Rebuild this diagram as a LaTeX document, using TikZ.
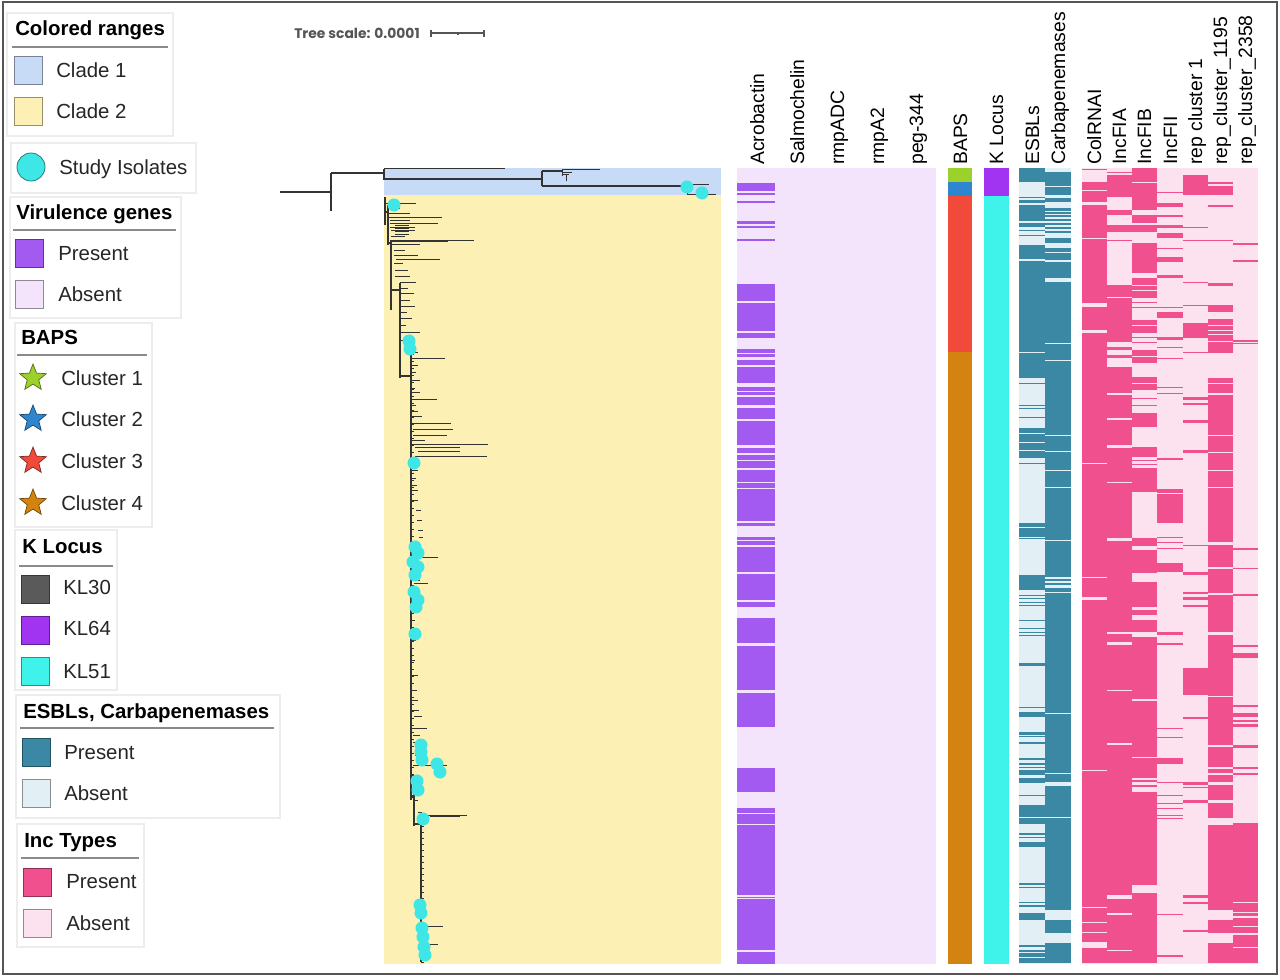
\documentclass[tikz,border=0pt]{standalone}
\usepackage{fontspec}
\setmainfont{Liberation Sans}
\newfontfamily\scalefnt{Poppins}
\usetikzlibrary{shapes.geometric}
\definecolor{framec}{HTML}{555555}
\definecolor{boxc}{HTML}{EDEDED}
\definecolor{linec}{HTML}{8A8A8A}
\definecolor{cladeA}{HTML}{C7DAF6}
\definecolor{cladeB}{HTML}{FDF0B4}
\definecolor{iso}{HTML}{3FE6E6}
\definecolor{vpres}{HTML}{A25AF0}
\definecolor{vabs}{HTML}{F3E4FB}
\definecolor{bapsA}{HTML}{9CD02A}
\definecolor{bapsB}{HTML}{2E86D0}
\definecolor{bapsC}{HTML}{F24A3A}
\definecolor{bapsD}{HTML}{D3830F}
\definecolor{klA}{HTML}{5A5A5A}
\definecolor{klB}{HTML}{A034F0}
\definecolor{klC}{HTML}{3FF2EA}
\definecolor{epres}{HTML}{3B88A5}
\definecolor{eabs}{HTML}{E2EFF4}
\definecolor{ipres}{HTML}{F0508E}
\definecolor{iabs}{HTML}{FCE1EF}
\definecolor{treec}{HTML}{333333}
\newcommand\colbars[4]{\foreach \ya/\yb in {#4}{\fill[#1] (#2,\ya) rectangle (#3,\yb);}}
\begin{document}
\begin{tikzpicture}[x=0.75pt,y=-0.75pt,
  legbox/.style={draw=boxc, line width=0.8pt},
  legline/.style={draw=linec, line width=1.4pt},
  swatch/.style={draw=#1!60!black, fill=#1, line width=0.6pt, minimum size=21pt, inner sep=0, rectangle},
  starsw/.style={star, star points=5, star point ratio=2.3, minimum size=21pt, inner sep=0, fill=#1, draw=#1!50!black, line width=0.5pt},
  legtitle/.style={anchor=base west, inner sep=0, font=\bfseries\fontsize{15.3}{18}\selectfont},
  legtext/.style={anchor=base west, inner sep=0, font=\fontsize{15.3}{18}\selectfont, text=black!85},
  collab/.style={anchor=base west, inner sep=0, rotate=90, font=\fontsize{14.5}{17}\selectfont},
  br/.style={draw=treec, line width=1.1pt},
  lf/.style={draw=treec, line width=0.7pt}]
\useasboundingbox (0,0) rectangle (1280,979);
\fill[white] (0,0) rectangle (1280,979);
\draw[framec, line width=1.4pt] (3,2) rectangle (1277,974);

% ---------------- legend ----------------
\draw[legbox] (7,13) rectangle (173,136);
\node[legtitle] (tCR) at (15,35) {Colored ranges};
\draw[legline] (12,47) -- (168,47);
\node[swatch=cladeA] (sC1) at (28,70) {};
\node[legtext] (xC1) at (56,77) {Clade 1};
\node[swatch=cladeB] (sC2) at (28,111) {};
\node[legtext] (xC2) at (56,118) {Clade 2};

\draw[legbox] (11,143) rectangle (196,193);
\node[circle, fill=iso, draw=iso!55!black, line width=0.6pt, minimum size=21pt, inner sep=0] (sSI) at (31,167) {};
\node[legtext] (xSI) at (59,174) {Study Isolates};

\draw[legbox] (10,197) rectangle (181,318);
\node[legtitle] (tVG) at (16,219) {Virulence genes};
\draw[legline] (13,230) -- (176,230);
\node[swatch=vpres] (sVP) at (29,253) {};
\node[legtext] (xVP) at (58,260) {Present};
\node[swatch=vabs] (sVA) at (29,294) {};
\node[legtext] (xVA) at (58,301) {Absent};

\draw[legbox] (15,323) rectangle (152,527);
\node[legtitle] (tBA) at (21,344) {BAPS};
\draw[legline] (17,355) -- (147,355);
\node[starsw=bapsA] (sB1) at (33,378) {};
\node[legtext] (xB1) at (61,385) {Cluster 1};
\node[starsw=bapsB] (sB2) at (33,419) {};
\node[legtext] (xB2) at (61,426) {Cluster 2};
\node[starsw=bapsC] (sB3) at (33,461) {};
\node[legtext] (xB3) at (61,468) {Cluster 3};
\node[starsw=bapsD] (sB4) at (33,503) {};
\node[legtext] (xB4) at (61,510) {Cluster 4};

\draw[legbox] (15,530) rectangle (117,690);
\node[legtitle] (tKL) at (22,553) {K Locus};
\draw[legline] (19,566) -- (113,566);
\node[swatch=klA] (sK1) at (35,589) {};
\node[legtext] (xK1) at (63,594) {KL30};
\node[swatch=klB] (sK2) at (35,630) {};
\node[legtext] (xK2) at (63,635) {KL64};
\node[swatch=klC] (sK3) at (35,671) {};
\node[legtext] (xK3) at (63,678) {KL51};

\draw[legbox] (16,695) rectangle (280,818);
\node[legtitle] (tES) at (23,718) {ESBLs, Carbapenemases};
\draw[legline] (20,728) -- (274,728);
\node[swatch=epres] (sEP) at (36,752) {};
\node[legtext] (xEP) at (64,759) {Present};
\node[swatch=eabs] (sEA) at (36,793) {};
\node[legtext] (xEA) at (64,800) {Absent};

\draw[legbox] (17,824) rectangle (144,947);
\node[legtitle] (tIT) at (24,847) {Inc Types};
\draw[legline] (21,858) -- (139,858);
\node[swatch=ipres] (sIP) at (37,882) {};
\node[legtext] (xIP) at (66,888) {Present};
\node[swatch=iabs] (sIA) at (37,923) {};
\node[legtext] (xIA) at (66,930) {Absent};

% ---------------- tree scale ----------------
\node[anchor=west, inner sep=0, text=framec, font=\scalefnt\bfseries\fontsize{10.4}{12}\selectfont] (tsc) at (294,33) {Tree scale: 0.0001};
\draw[framec, line width=0.9pt] (431,33) -- (484,33);
\draw[framec, line width=0.9pt] (431,29.5) -- (431,36.5) (484,29.5) -- (484,36.5) (458,32) -- (458,34.5);

% ---------------- clade ranges ----------------
\fill[cladeA] (384,168) rectangle (721,195);
\fill[cladeB] (384,195) rectangle (721,964);

% ---------------- tree ----------------
\draw[br] (280,192) -- (331,192);
\draw[br] (331,173) -- (331,211);
\draw[br] (331,173) -- (384,173);
\draw[br] (384,168.5) -- (384,180);
\draw[br] (384,168.5) -- (505,168.5);
\draw[br] (384,179) -- (542,179);
\draw[br] (542,171) -- (542,186);
\draw[br] (542,171) -- (562,171);
\draw[lf] (562,169) -- (562,176) (562,169.5) -- (600,169.5) (562,172) -- (572,172) (562,174) -- (569,174) (566,174) -- (566,181);
\draw[br] (542,186) -- (687,186);
\draw[lf] (687,184) -- (687,194) (687,184) -- (709,184) (687,194) -- (716,194);
% clade 2 backbone
\draw[br] (385,197) -- (385,225) (385,212) -- (388,212) (388,205) -- (388,245) (388,243) -- (391,243) (391,240) -- (391,310)
  (391,290) -- (400,290) (400,283) -- (400,378) (400,376) -- (411,376) (411,350) -- (411,800)
  (411,797) -- (414,797) (414,780) -- (414,826) (414,824) -- (421,824);
\draw[draw=treec, line width=1.8pt] (421,815) -- (421,962);
\foreach \yy/\xa/\xb in {203/385/416, 208/388/400, 213/388/410, 217/388/442, 220/390/410, 223/390/438, 227/390/415, 230/391/415, 236/391/405, 240/391/474, 241/391/448, 244/391/420, 250/394/405, 255/394/418, 259/396/440, 263/394/403, 270/395/408, 276/395/410, 282/400/416, 288/400/408, 293/400/414, 300/400/410, 306/400/415, 312/400/407, 318/400/412, 325/400/406, 332/400/420, 340/400/408, 352/411/418, 358/411/445, 365/411/418, 372/411/416, 380/411/420, 388/411/415, 392/411/420, 399/411/437, 405/411/416, 411/411/418, 416/411/422, 423/411/451, 429/413/453, 435/413/447, 440/411/425, 444/411/488, 447/415/460, 451/418/460, 456/415/487, 462/411/420, 470/411/418, 478/411/416, 485/411/417, 490/411/418, 500/411/418, 510/416/421, 520/417/422, 530/418/423, 537/419/423, 552/411/418, 557/411/438, 565/411/417, 580/411/420, 583/414/428, 588/411/418, 600/411/416, 620/411/415, 640/411/416, 660/411/415, 675/411/418, 690/411/417, 700/411/418, 710/411/419, 716/414/422, 728/411/427, 735/413/420, 742/413/422, 755/415/420, 765/413/447, 775/411/418, 790/411/416, 800/413/418, 812/418/422, 815/420/467, 816/430/460, 926/421/443, 944/421/438, 950/421/428, 962/421/424}
  {\draw[lf] (\xa,\yy) -- (\xb,\yy);}
\foreach \yy in {354,361,...,800} {\draw[lf] (411,\yy) -- (414,\yy);}
\foreach \yy in {826,832,...,960} {\draw[lf] (421,\yy) -- (424,\yy);}
\foreach \yy in {225,228,...,236} {\draw[lf] (395,\yy) -- (409,\yy);}
% study isolates
\foreach \xx/\yy in {687/187, 702/193, 394/205, 409/341, 410/349, 414/463, 415/547, 418/553, 413/562, 418/567, 415/575, 414/592, 418/600, 416/607, 415/634, 421/745, 421/752, 422/760, 437/764, 440/772, 417/781, 418/790, 423/819, 420/905, 421/913, 422/928, 423/937, 424/947, 425/955}
  {\fill[iso] (\xx,\yy) circle[radius=4.9pt];}

% ---------------- virulence ----------------
\fill[vabs] (737,168) rectangle (936,964);
\colbars{vpres}{737}{775}{183/191, 193/195, 201/203, 221/224, 226/228, 239/241, 284/301, 303/331, 333/338, 349/353, 354/357, 360/365, 367/383, 387/391, 392/395, 397/405, 408/419, 421/445, 448/453, 455/460, 461/468, 470/482, 483/488, 489/521, 523/526, 537/540, 541/545, 547/572, 574/600, 602/607, 618/643, 646/690, 693/727, 768/792, 808/813, 814/824, 825/895, 897/898, 899/950, 952/964}
% BAPS
\fill[bapsA] (948,168) rectangle (972,182);
\fill[bapsB] (948,182) rectangle (972,196);
\fill[bapsC] (948,196) rectangle (972,352);
\fill[bapsD] (948,352) rectangle (972,964);
% K locus
\fill[klB] (984,168) rectangle (1009,196);
\fill[klC] (984,196) rectangle (1009,964);
% ESBL / Carbapenemases
\fill[eabs] (1019,168) rectangle (1071,964);
\colbars{epres}{1019}{1045}{168/182, 197/198, 200/203, 205/221, 223/227, 230/231, 235/236, 245/259, 261/352, 353/378, 383/384, 405/406, 408/409, 417/418, 428/433, 434/442, 443/450, 451/458, 463/464, 523/527, 528/537, 538/539, 575/590, 595/596, 598/599, 602/603, 605/606, 620/621, 628/629, 632/633, 635/636, 663/666, 707/708, 712/717, 732/735, 736/737, 742/744, 758/760, 763/765, 767/768, 770/775, 778/783, 795/796, 805/817, 818/824, 833/835, 837/838, 842/847, 883/885, 887/888, 902/903, 905/907, 913/920, 945/947, 950/952, 953/957, 958/963}
\colbars{epres}{1045}{1071}{172/186, 187/195, 198/202, 208/211, 212/214, 215/217, 219/221, 223/225, 227/229, 231/233, 238/243, 248/252, 253/260, 262/278, 282/343, 344/360, 361/435, 436/451, 452/470, 471/487, 488/540, 541/577, 579/581, 583/585, 588/592, 593/713, 714/773, 774/782, 786/817, 818/910, 920/933, 943/963}
% Inc types
\fill[iabs] (1082,168) rectangle (1258,964);
\colbars{ipres}{1082}{1107}{169/170, 182/190, 191/202, 205/238, 239/303, 307/330, 333/463, 464/577, 578/597, 600/770, 771/907, 908/922, 923/932, 933/942, 948/963}
\colbars{ipres}{1107}{1132}{172/173, 175/197, 210/215, 225/232, 240/241, 285/297, 298/342, 347/350, 355/358, 367/393, 395/418, 420/445, 448/482, 483/538, 541/632, 634/642, 645/690, 691/743, 745/895, 899/913, 915/950, 951/963}
\colbars{ipres}{1132}{1157}{168/182, 183/210, 215/223, 225/232, 243/273, 278/285, 286/290, 291/298, 302/303, 307/308, 320/325, 326/333, 337/338, 342/343, 350/356, 357/363, 377/383, 384/390, 398/399, 405/406, 413/427, 447/457, 460/461, 464/465, 468/492, 538/546, 550/573, 582/607, 610/615, 620/632, 637/699, 701/757, 758/778, 780/782, 785/787, 792/885, 893/963}
\colbars{ipres}{1157}{1183}{192/193, 203/207, 215/217, 225/228, 233/238, 248/249, 257/262, 275/278, 307/308, 312/318, 337/340, 347/348, 358/359, 387/388, 393/394, 458/460, 489/493, 494/523, 537/538, 542/543, 548/549, 563/572, 632/635, 643/645, 728/729, 737/738, 758/764, 782/783, 795/796, 803/804, 808/809, 815/816, 818/819, 914/915, 955/957}
\colbars{ipres}{1183}{1208}{175/195, 227/228, 240/241, 282/283, 305/306, 323/338, 352/353, 397/400, 403/405, 420/423, 450/453, 545/546, 572/575, 592/594, 597/600, 605/607, 668/695, 717/719, 782/785, 787/788, 800/803, 895/898, 902/904, 930/932}
\colbars{ipres}{1208}{1233}{182/184, 186/195, 205/207, 240/241, 283/286, 305/312, 319/325, 326/330, 331/334, 335/341, 342/353, 378/383, 384/393, 395/435, 436/452, 453/470, 471/487, 488/542, 545/567, 569/593, 595/632, 635/696, 697/745, 747/767, 769/773, 775/782, 785/800, 803/818, 825/910, 920/933, 943/963}
\colbars{ipres}{1233}{1258}{243/245, 260/262, 340/342, 343/344, 548/550, 568/569, 594/596, 645/647, 653/658, 705/707, 713/717, 720/722, 724/727, 745/748, 767/769, 773/775, 823/902, 903/912, 913/916, 918/926, 927/933, 935/947, 948/963}

% ---------------- column labels ----------------
\node[collab] (cAcr) at (764,165) {Acrobactin};
\node[collab] (cSal) at (804,165) {Salmochelin};
\node[collab] (cRmp) at (844,165) {rmpADC};
\node[collab] (cRm2) at (884,165) {rmpA2};
\node[collab] (cPeg) at (923,165) {peg-344};
\node[collab] (cBAP) at (967,165) {BAPS};
\node[collab] (cKL) at (1003,165) {K Locus};
\node[collab] (cESB) at (1039,165) {ESBLs};
\node[collab] (cCar) at (1065,165) {Carbapenemases};
\node[collab] (cCol) at (1101,165) {ColRNAI};
\node[collab] (cFIA) at (1126,165) {IncFIA};
\node[collab] (cFIB) at (1151,165) {IncFIB};
\node[collab] (cFII) at (1177,165) {IncFII};
\node[collab] (cR1) at (1202,165) {rep cluster 1};
\node[collab] (cR2) at (1227,165) {rep\_cluster\_1195};
\node[collab] (cR3) at (1252,165) {rep\_cluster\_2358};
\end{tikzpicture}
\end{document}
